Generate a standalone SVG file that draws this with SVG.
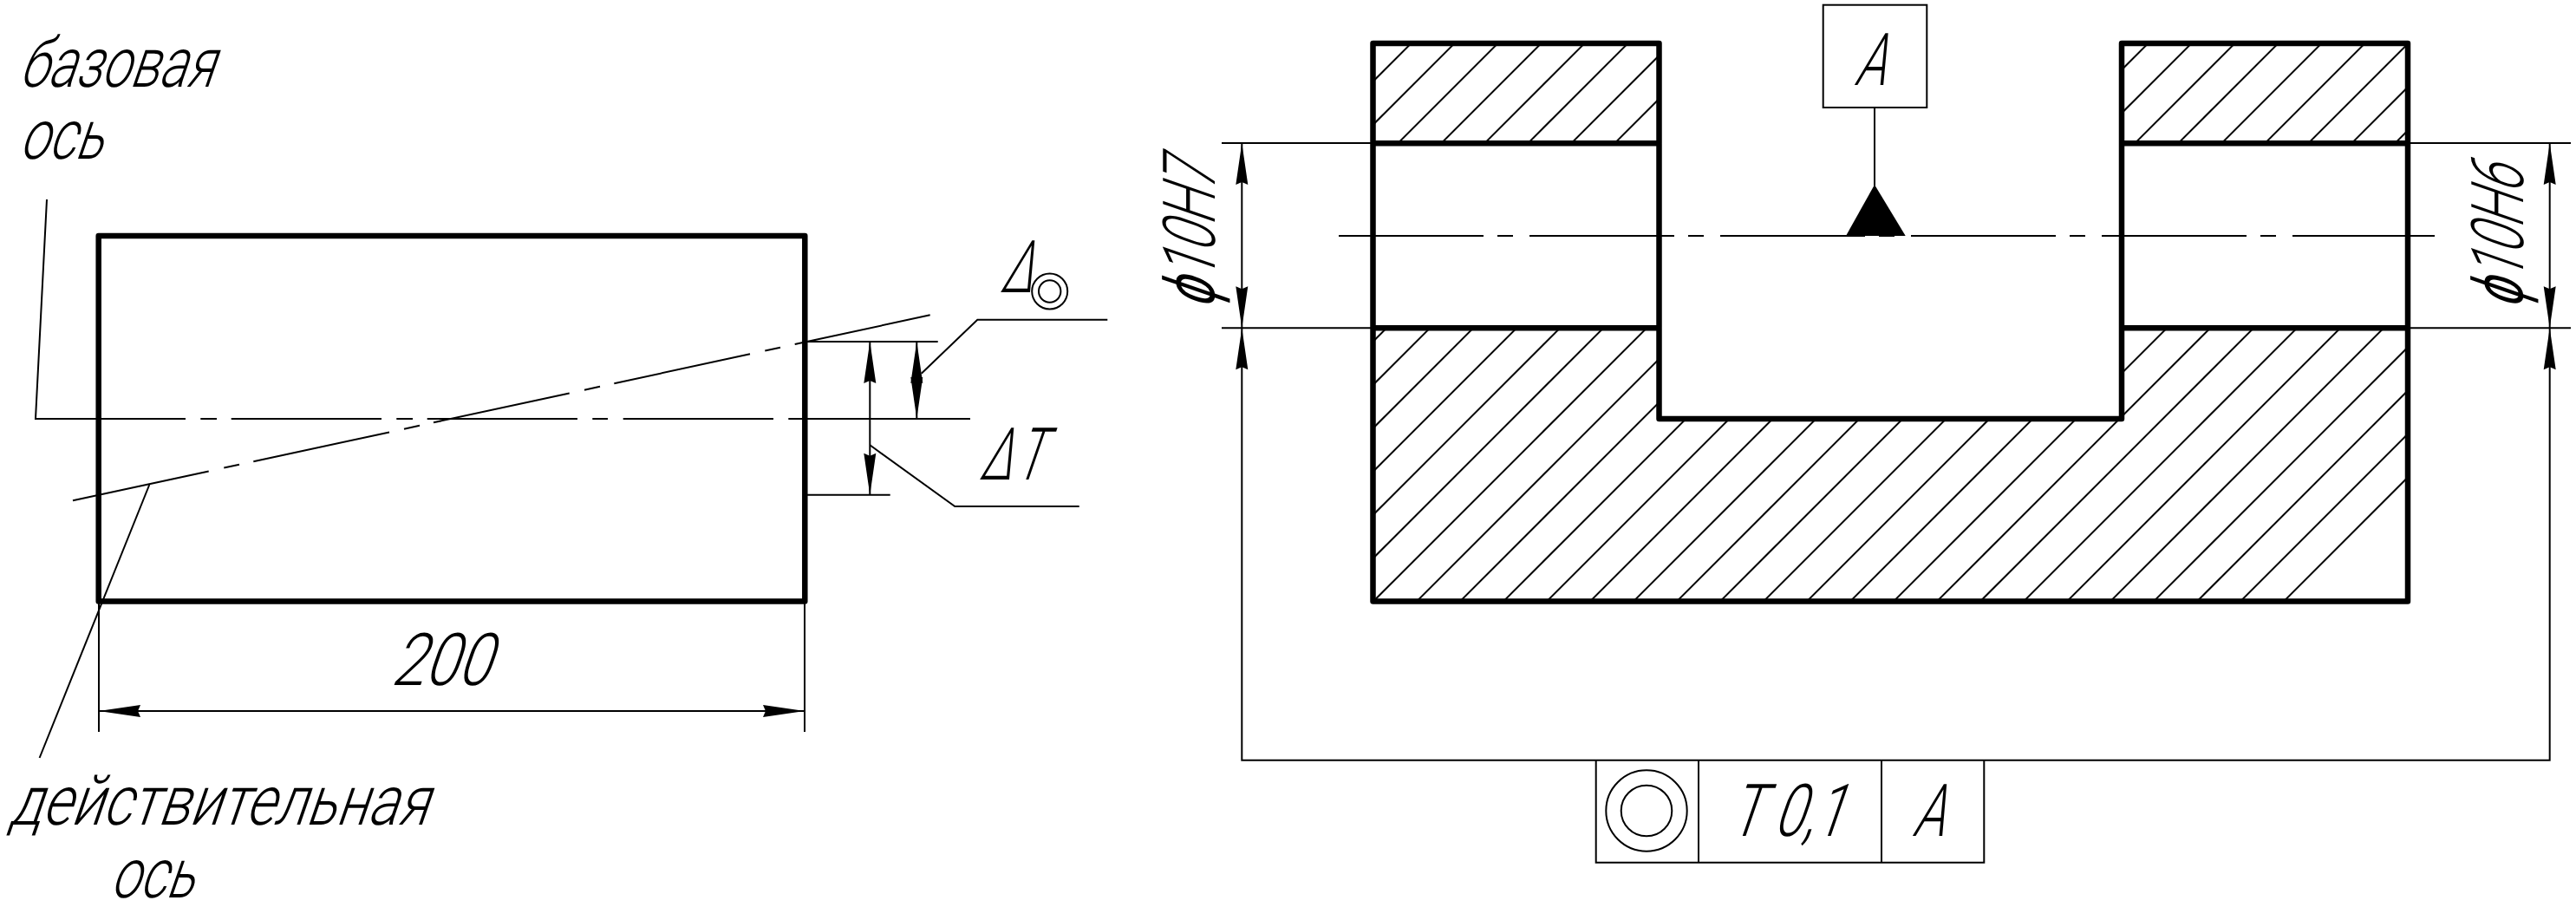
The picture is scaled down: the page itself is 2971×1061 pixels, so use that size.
<svg xmlns="http://www.w3.org/2000/svg" width="2971" height="1061" viewBox="0 0 2971 1061">
<style>
.thin{fill:none;stroke:#000;stroke-width:2}
.thick{fill:none;stroke:#000;stroke-width:6.5;stroke-linejoin:round;stroke-linecap:round}
.arr{marker-start:url(#head);marker-end:url(#head)}
.t{font-family:Roboto,"Liberation Sans",sans-serif;font-weight:300;fill:#000;font-size:84px}
.l{font-size:80px}
</style>
<defs>
<marker id="head" markerUnits="userSpaceOnUse" markerWidth="50" markerHeight="16" refX="48" refY="8" orient="auto-start-reverse" overflow="visible"><path d="M48 8L0 1L3 8L0 15Z" fill="#000"/></marker>
<clipPath id="sect"><path d="M1583.5 50H1914V165H1583.5ZM2447 50H2777V165H2447ZM1583.5 378H1914V483H2447V378H2777V693.5H1583.5Z"/></clipPath>
</defs>
<rect width="2971" height="1061" fill="#fff"/>
<g id="shaft">
<rect class="thick" x="113.7" y="272" width="814.6" height="421.5"/>
</g>
<g id="shaft-axes" class="thin">
<path d="M54 230L41 483H214M231.3 483H250M266.7 483H440M457.3 483H476M492.7 483H666M683.3 483H701M718.7 483H892M909.3 483H1119"/>
<path d="M84 577.3L240.7 543.4M258.3 539.6L276 535.8M292.3 532.3L449 498.4M466 494.7L484 490.8M500 487.3L656.7 453.4M674 449.7L692 445.8M708.3 442.2L865 408.3M882.3 404.6L900 400.7M916.7 397.1L1072.7 363.3"/>
<path d="M172.3 559L45.6 874"/>
</g>
<g id="shaft-dims" class="thin">
<path d="M114 694V844M928 694V844"/>
<path class="arr" d="M114 820H928"/>
<path d="M929 394H1081.7M929 570.7H1026.7"/>
<path class="arr" d="M1003.3 394V570.7"/>
<path class="arr" d="M1057.3 394V482.7"/>
<path d="M1062.7 430.7L1127.3 368.7H1277.3"/>
<path d="M1003.3 513.3L1101.3 584H1244.7"/>
<circle cx="1210.7" cy="336" r="20.5"/>
<circle cx="1210.7" cy="336" r="12.7"/>
</g>
<g id="shaft-labels">
<text class="t l" transform="translate(21 100) skewX(-19)" textLength="224" lengthAdjust="spacingAndGlyphs">базовая</text>
<text class="t l" transform="translate(21 183) skewX(-19)" textLength="96" lengthAdjust="spacingAndGlyphs">ось</text>
<text class="t l" transform="translate(10 950.7) skewX(-19)" textLength="482" lengthAdjust="spacingAndGlyphs">действительная</text>
<text class="t l" transform="translate(126 1035) skewX(-19)" textLength="96" lengthAdjust="spacingAndGlyphs">ось</text>
<text class="t" transform="translate(450 790) skewX(-19)" textLength="114" lengthAdjust="spacingAndGlyphs">200</text>
<text class="t" transform="translate(1153 337) skewX(-19) scale(.62 1)">Δ</text>
<text class="t" transform="translate(1129 553) skewX(-19) scale(.62 1)" x="0 65">ΔT</text>
</g>
<g id="section">
<path class="thin" clip-path="url(#sect)" d="M1587.5 40l-660 660m710-660l-660 660m710-660l-660 660m710-660l-660 660m710-660l-660 660m710-660l-660 660m710-660l-660 660m710-660l-660 660m710-660l-660 660m710-660l-660 660m710-660l-660 660m710-660l-660 660m710-660l-660 660m710-660l-660 660m710-660l-660 660m710-660l-660 660m710-660l-660 660m710-660l-660 660m710-660l-660 660m710-660l-660 660m710-660l-660 660m710-660l-660 660m710-660l-660 660m710-660l-660 660m710-660l-660 660m710-660l-660 660m710-660l-660 660m710-660l-660 660m710-660l-660 660m710-660l-660 660m710-660l-660 660m710-660l-660 660m710-660l-660 660m710-660l-660 660m710-660l-660 660"/>
<path class="thick" d="M1583.5 50H1913.5V483H2447V50H2777V693.5H1583.5ZM1583.5 165.3H1913.5M1583.5 378.3H1913.5M2447 165.3H2777M2447 378.3H2777"/>
</g>
<g id="section-axis" class="thin">
<path d="M1544 272H1711M1727 272H1745M1764 272H1931M1947 272H1965M1984 272H2151M2167 272H2185M2204 272H2371M2387 272H2405M2424 272H2591M2607 272H2625M2644 272H2808"/>
</g>
<g id="datum">
<rect class="thin" x="2102.7" y="5.7" width="119.6" height="118.3"/>
<path class="thin" d="M2162 124V214"/>
<path d="M2162 213L2129 272H2197.7Z" fill="#000"/>
<text class="t" transform="translate(2138 97.7) skewX(-19)" textLength="35" lengthAdjust="spacingAndGlyphs">A</text>
</g>
<g id="section-dims" class="thin">
<path d="M1409 165H1583M1409 378.3H1583M2777 165H2965M2777 378.3H2965"/>
<path class="arr" d="M1432.3 165V378.3"/>
<path class="arr" d="M2940.7 165V378.3"/>
<path class="arr" d="M1432.3 378.3V876.7H2940.7V378.3"/>
</g>
<g id="section-labels">
<text class="t" transform="translate(1400.7 356.7) rotate(-90) skewX(-19)" textLength="168" lengthAdjust="spacingAndGlyphs">ϕ10H7</text>
<text class="t" transform="translate(2910 356.7) rotate(-90) skewX(-19)" textLength="163" lengthAdjust="spacingAndGlyphs">ϕ10H6</text>
</g>
<g id="frame">
<path class="thin" d="M1840.7 876.7V994.7H2288.3V876.7M1959 876.7V994.7M2170 876.7V994.7"/>
<circle class="thin" cx="1899" cy="935" r="46.7"/>
<circle class="thin" cx="1899" cy="935" r="29.3"/>
<text class="t" transform="translate(1993 964) skewX(-19)" textLength="132" lengthAdjust="spacingAndGlyphs">T 0,1</text>
<text class="t" transform="translate(2205 964) skewX(-19)" textLength="36" lengthAdjust="spacingAndGlyphs">A</text>
</g>
</svg>
